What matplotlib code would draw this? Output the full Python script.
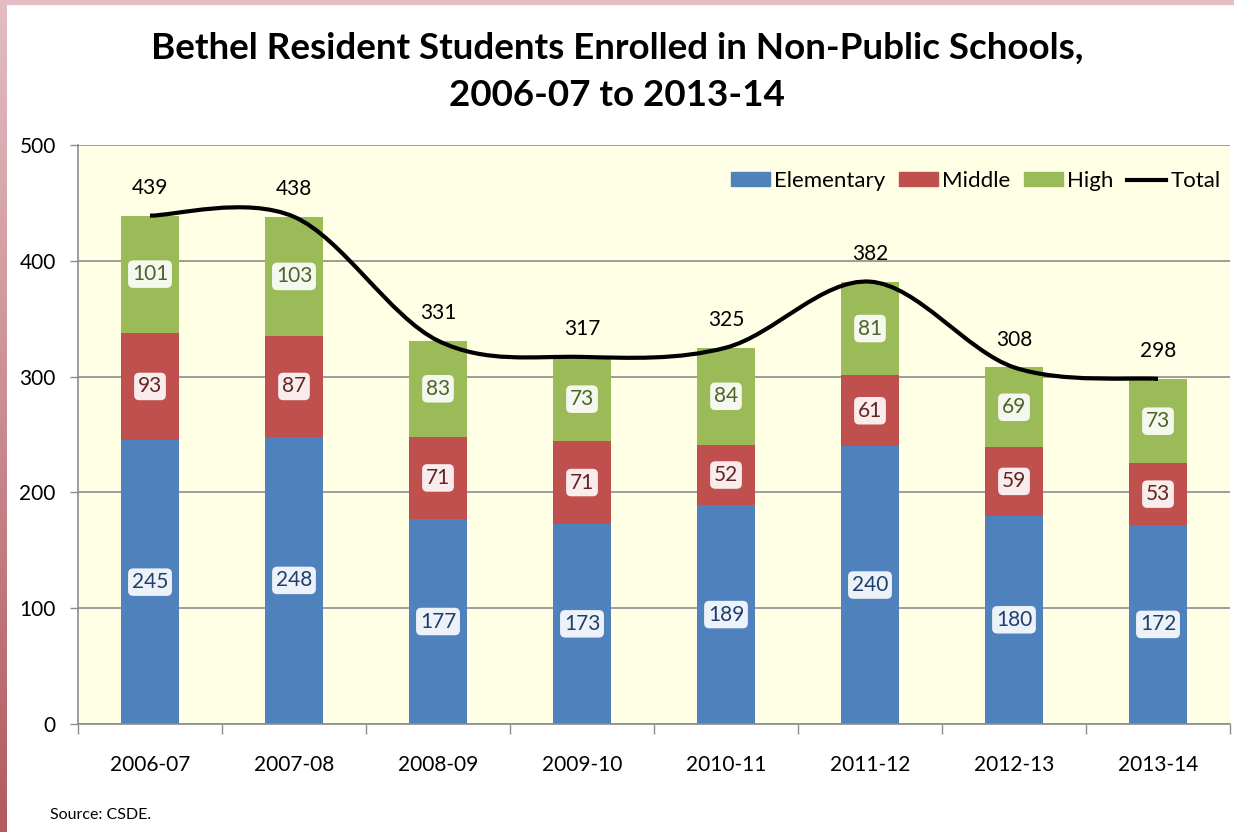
import numpy as np
import matplotlib
matplotlib.use("Agg")
import matplotlib.pyplot as plt
from matplotlib.path import Path
from matplotlib.patches import PathPatch, Patch
from matplotlib.lines import Line2D
from matplotlib.colors import LinearSegmentedColormap

plt.rcParams['font.family'] = ['Lato', 'DejaVu Sans']

years = ["2006-07", "2007-08", "2008-09", "2009-10", "2010-11", "2011-12", "2012-13", "2013-14"]
elementary = [245, 248, 177, 173, 189, 240, 180, 172]
middle = [93, 87, 71, 71, 52, 61, 59, 53]
high = [101, 103, 83, 73, 84, 81, 69, 73]
total = [439, 438, 331, 317, 325, 382, 308, 298]

c_el, c_mid, c_high = "#4F81BD", "#C0504D", "#9BBB59"

fig = plt.figure(figsize=(12.34, 8.32), dpi=100)
ax = fig.add_axes([78/1234, 108/832, 1152/1234, 579/832])
ax.set_facecolor("#FFFFE6")

x = np.arange(len(years))
w = 0.4
el = np.array(elementary); mi = np.array(middle); hi = np.array(high)
ax.bar(x, el, w, color=c_el, zorder=2)
ax.bar(x, mi, w, bottom=el, color=c_mid, zorder=2)
ax.bar(x, hi, w, bottom=el + mi, color=c_high, zorder=2)

box = dict(boxstyle="round,pad=0.18,rounding_size=0.25", fc="white", ec="none", alpha=0.9)
for i in range(len(years)):
    ax.text(x[i], el[i] / 2, str(el[i]), ha="center", va="center", fontsize=15,
            color="#1F3E6E", bbox=box, zorder=4)
    ax.text(x[i], el[i] + mi[i] / 2, str(mi[i]), ha="center", va="center", fontsize=15,
            color="#632523", bbox=box, zorder=4)
    ax.text(x[i], el[i] + mi[i] + hi[i] / 2, str(hi[i]), ha="center", va="center", fontsize=15,
            color="#4F6228", bbox=box, zorder=4)

# Smoothed total line (Excel-style Bezier smoothing)
pts = np.column_stack([x, np.array(total, dtype=float)])
n = len(pts)
verts = [tuple(pts[0])]
codes = [Path.MOVETO]
for i in range(n - 1):
    p0 = pts[i - 1] if i > 0 else pts[i]
    p1 = pts[i]
    p2 = pts[i + 1]
    p3 = pts[i + 2] if i + 2 < n else pts[i + 1]
    c1 = p1 + (p2 - p0) / 6
    c2 = p2 - (p3 - p1) / 6
    verts += [tuple(c1), tuple(c2), tuple(p2)]
    codes += [Path.CURVE4] * 3
ax.add_patch(PathPatch(Path(verts, codes), fc="none", ec="black", lw=3, zorder=3))

for i in range(n):
    ax.annotate(str(total[i]), (x[i], total[i]), xytext=(0, 20), textcoords="offset points",
                ha="center", va="center", fontsize=15, color="black", zorder=5)

ax.set_xlim(-0.5, len(years) - 0.5)
ax.set_ylim(0, 500)
ax.set_yticks(range(0, 501, 100))
ax.yaxis.grid(True, color="#8C8C8C", lw=1.2, zorder=1)
ax.set_axisbelow(True)
ax.tick_params(axis="y", length=6, width=1, color="#8C8C8C", labelsize=15, pad=10)

ax.set_xticks(np.arange(-0.5, len(years), 1))
ax.set_xticklabels([])
ax.set_xticks(x, minor=True)
ax.set_xticklabels(years, minor=True)
ax.tick_params(axis="x", which="major", length=7, width=1, color="#8C8C8C", direction="out")
ax.tick_params(axis="x", which="minor", length=0, labelsize=15, pad=22)

for s in ["top", "right"]:
    ax.spines[s].set_visible(False)
for s in ["left", "bottom"]:
    ax.spines[s].set_color("#8C8C8C")
    ax.spines[s].set_linewidth(1.2)

handles = [Patch(color=c_el, label="Elementary"), Patch(color=c_mid, label="Middle"),
           Patch(color=c_high, label="High"), Line2D([], [], color="black", lw=3, label="Total")]
ax.legend(handles=handles, loc="upper right", bbox_to_anchor=(1.009, 0.99), ncol=4, frameon=False,
          fontsize=16, handlelength=1.75, handleheight=0.55, handletextpad=0.2, columnspacing=0.6)

fig.text(0.5, 1 - 48/832, "Bethel Resident Students Enrolled in Non-Public Schools,",
         ha="center", va="center", fontsize=26.5, fontweight="bold")
fig.text(0.5, 1 - 95/832, "2006-07 to 2013-14", ha="center", va="center", fontsize=26.5, fontweight="bold")
fig.text(50/1234, 1 - 815/832, "Source: CSDE.", ha="left", va="center", fontsize=11.5)

# decorative border
bax = fig.add_axes([0, 0, 6/1234, 1])
grad = np.linspace(0, 1, 256).reshape(-1, 1)
cm = LinearSegmentedColormap.from_list("b", ["#E2BEC2", "#B25A5E"])
bax.imshow(grad, aspect="auto", cmap=cm, extent=[0, 1, 0, 1], origin="upper")
bax.axis("off")
fig.patches.append(matplotlib.patches.Rectangle((0, 1 - 4/832), 1, 4/832, transform=fig.transFigure,
                                               color="#E2BEC2", zorder=0))

fig.savefig("out.png", dpi=100)
